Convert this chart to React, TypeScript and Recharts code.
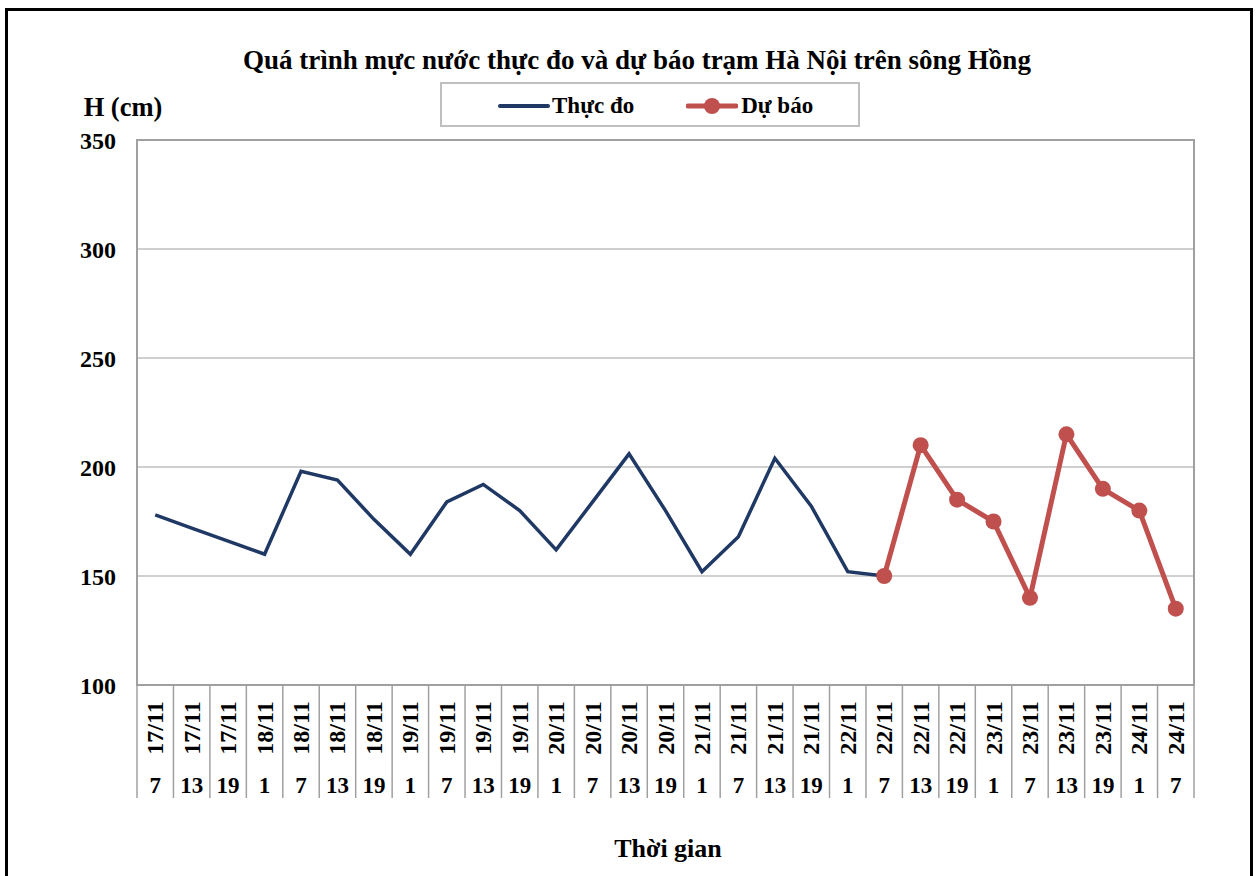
import React from 'react';
import { ComposedChart, Line, XAxis, YAxis, CartesianGrid, Legend, ReferenceArea } from 'recharts';

const dates = [
  '17/11', '17/11', '17/11',
  '18/11', '18/11', '18/11', '18/11',
  '19/11', '19/11', '19/11', '19/11',
  '20/11', '20/11', '20/11', '20/11',
  '21/11', '21/11', '21/11', '21/11',
  '22/11', '22/11', '22/11', '22/11',
  '23/11', '23/11', '23/11', '23/11',
  '24/11', '24/11',
];
const hours = [
  '7', '13', '19',
  '1', '7', '13', '19',
  '1', '7', '13', '19',
  '1', '7', '13', '19',
  '1', '7', '13', '19',
  '1', '7', '13', '19',
  '1', '7', '13', '19',
  '1', '7',
];
// Thực đo: 17/11 7h -> 22/11 7h
const measured = [178, 172, 166, 160, 198, 194, 176, 160, 184, 192, 180, 162, 184, 206, 180, 152, 168, 204, 182, 152, 150];
// Dự báo: 22/11 7h -> 24/11 7h
const forecastStart = 20;
const forecast = [150, 210, 185, 175, 140, 215, 190, 180, 135];
const yTicks = [100, 150, 200, 250, 300, 350];

const data = dates.map((d, i) => ({
  key: `${d}|${hours[i]}`,
  measured: i < measured.length ? measured[i] : null,
  forecast: i >= forecastStart && i - forecastStart < forecast.length ? forecast[i - forecastStart] : null,
}));

const FONT = "'Liberation Serif', 'Times New Roman', serif";
const NAVY = '#1f3864';
const RED = '#c0504d';
const GRID = '#bfbfbf';
const FRAME = '#a0a0a0';

const CategoryTick = (props: any) => {
  const { x, y, payload, index, width, visibleTicksCount } = props;
  const step = width / visibleTicksCount;
  const [date, hour] = String(payload.value).split('|');
  const last = index === visibleTicksCount - 1;
  return (
    <g>
      <line x1={x - step / 2} x2={x - step / 2} y1={y} y2={y + 113} stroke={FRAME} strokeWidth={1.5} />
      {last && <line x1={x + step / 2} x2={x + step / 2} y1={y} y2={y + 113} stroke={FRAME} strokeWidth={1.5} />}
      <text
        x={x}
        y={y + 43}
        transform={`rotate(-90, ${x}, ${y + 43})`}
        textAnchor="middle"
        dominantBaseline="central"
        fontFamily={FONT}
        fontWeight="bold"
        fontSize={24}
        fill="#000"
      >
        {date}
      </text>
      <text x={x} y={y + 100} textAnchor="middle" dominantBaseline="central" fontFamily={FONT} fontWeight="bold" fontSize={23} fill="#000">
        {hour}
      </text>
    </g>
  );
};

const LegendBox = () => (
  <div
    style={{
      width: 420,
      height: 45,
      boxSizing: 'border-box',
      border: `2px solid ${GRID}`,
      background: '#fff',
      display: 'flex',
      alignItems: 'center',
      fontFamily: FONT,
      fontWeight: 'bold',
      fontSize: 23,
      color: '#000',
      paddingTop: 2,
    }}
  >
    <svg width={52} height={20} style={{ marginLeft: 56 }}>
      <line x1={2} x2={50} y1={10} y2={10} stroke={NAVY} strokeWidth={4} strokeLinecap="round" />
    </svg>
    <span style={{ marginLeft: 2 }}>Thực đo</span>
    <svg width={52} height={20} style={{ marginLeft: 52 }}>
      <line x1={2} x2={50} y1={10} y2={10} stroke={RED} strokeWidth={5} strokeLinecap="round" />
      <circle cx={26} cy={10} r={8} fill={RED} />
    </svg>
    <span style={{ marginLeft: 3 }}>Dự báo</span>
  </div>
);

export default function App() {
  return (
    <div style={{ position: 'absolute', left: 0, top: 0, width: 1257, height: 876, overflow: 'hidden', background: '#fff' }}>
      <div
        style={{
          position: 'absolute',
          left: 5,
          top: 8,
          width: 1248,
          height: 900,
          boxSizing: 'border-box',
          border: '3px solid #000',
        }}
      />
      <div style={{ position: 'absolute', left: 0, top: 0 }}>
        <ComposedChart width={1257} height={876} data={data} margin={{ top: 140, right: 63, bottom: 71, left: 77 }}>
          <text x={637} y={60} textAnchor="middle" dominantBaseline="central" fontFamily={FONT} fontWeight="bold" fontSize={27} fill="#000">
            Quá trình mực nước thực đo và dự báo trạm Hà Nội trên sông Hồng
          </text>
          <text x={123} y={107} textAnchor="middle" dominantBaseline="central" fontFamily={FONT} fontWeight="bold" fontSize={26.5} fill="#000">
            H (cm)
          </text>
          <text x={668} y={848} textAnchor="middle" dominantBaseline="central" fontFamily={FONT} fontWeight="bold" fontSize={26} fill="#000">
            Thời gian
          </text>
          <CartesianGrid vertical={false} stroke={GRID} strokeWidth={1.5} />
          <ReferenceArea y1={100} y2={350} fill="none" stroke={FRAME} strokeWidth={2} ifOverflow="visible" />
          <XAxis
            dataKey="key"
            scale="band"
            interval={0}
            height={120}
            tickSize={0}
            tickMargin={0}
            tickLine={false}
            axisLine={{ stroke: FRAME, strokeWidth: 2 }}
            tick={<CategoryTick />}
          />
          <YAxis
            domain={[100, 350]}
            ticks={yTicks}
            width={60}
            tickSize={0}
            tickMargin={21}
            tickLine={false}
            axisLine={{ stroke: FRAME, strokeWidth: 2 }}
            tick={{ fontFamily: FONT, fontWeight: 'bold', fontSize: 24, fill: '#000' }}
            allowDataOverflow
          />
          <Legend
            verticalAlign="middle"
            align="center"
            wrapperStyle={{ position: 'absolute', left: 440, top: 82, width: 420, height: 45 }}
            content={() => <LegendBox />}
          />
          <Line
            dataKey="measured"
            name="Thực đo"
            stroke={NAVY}
            strokeWidth={3.5}
            dot={false}
            activeDot={false}
            connectNulls={false}
            isAnimationActive={false}
          />
          <Line
            dataKey="forecast"
            name="Dự báo"
            stroke={RED}
            strokeWidth={5}
            dot={{ r: 8, fill: RED, stroke: RED, strokeWidth: 0 }}
            activeDot={false}
            connectNulls={false}
            isAnimationActive={false}
          />
        </ComposedChart>
      </div>
    </div>
  );
}
